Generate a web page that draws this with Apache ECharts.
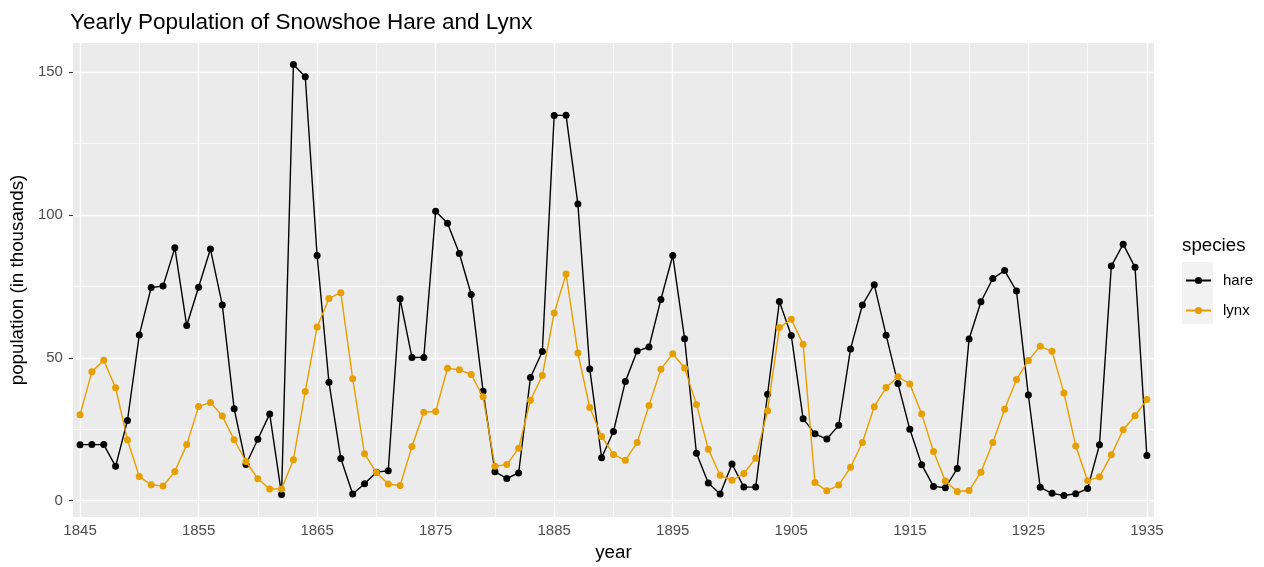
<!DOCTYPE html>
<html>
<head>
<meta charset="utf-8">
<script src="https://cdn.jsdelivr.net/npm/echarts@6/dist/echarts.min.js"></script>
<style>
  html, body { margin: 0; padding: 0; background: #fff; }
  #chart { width: 1264px; height: 567px; }
</style>
</head>
<body>
<div id="chart"></div>
<script>
  // 年份 1845-1935
  const years = [];
  for (let y = 1845; y <= 1935; y++) years.push(y);

  const hare = [19.58, 19.6, 19.61, 11.99, 28.04, 58.0, 74.6, 75.09, 88.48, 61.28,
    74.67, 88.06, 68.51, 32.19, 12.64, 21.49, 30.35, 2.18, 152.65, 148.36,
    85.81, 41.41, 14.75, 2.28, 5.91, 9.95, 10.44, 70.64, 50.12, 50.13,
    101.25, 97.12, 86.51, 72.17, 38.32, 10.11, 7.74, 9.67, 43.12, 52.21,
    134.85, 134.86, 103.79, 46.1, 15.03, 24.2, 41.65, 52.34, 53.78, 70.4,
    85.81, 56.69, 16.59, 6.16, 2.3, 12.82, 4.72, 4.73, 37.22, 69.72,
    57.78, 28.68, 23.37, 21.54, 26.34, 53.1, 68.48, 75.58, 57.92, 40.97,
    24.95, 12.59, 4.97, 4.5, 11.21, 56.6, 69.63, 77.74, 80.53, 73.38,
    36.93, 4.64, 2.54, 1.8, 2.39, 4.23, 19.52, 82.11, 89.76, 81.66, 15.76];

  const lynx = [30.09, 45.15, 49.15, 39.52, 21.23, 8.42, 5.56, 5.08, 10.17, 19.6,
    32.91, 34.38, 29.59, 21.3, 13.69, 7.65, 4.08, 4.09, 14.33, 38.22,
    60.78, 70.77, 72.77, 42.68, 16.39, 9.83, 5.8, 5.26, 18.91, 30.95,
    31.18, 46.34, 45.77, 44.15, 36.33, 12.03, 12.6, 18.34, 35.14, 43.77,
    65.69, 79.35, 51.65, 32.59, 22.45, 16.16, 14.12, 20.38, 33.33, 46.0,
    51.41, 46.43, 33.68, 18.01, 8.86, 7.13, 9.47, 14.86, 31.47, 60.57,
    63.51, 54.7, 6.3, 3.41, 5.44, 11.65, 20.35, 32.88, 39.55, 43.36,
    40.83, 30.36, 17.18, 6.82, 3.19, 3.52, 9.94, 20.3, 31.99, 42.36,
    49.08, 53.99, 52.25, 37.7, 19.14, 6.98, 8.31, 16.01, 24.82, 29.7, 35.4];

  const xMajor = [1845, 1855, 1865, 1875, 1885, 1895, 1905, 1915, 1925, 1935];
  const xMinor = [1850, 1860, 1870, 1880, 1890, 1900, 1910, 1920, 1930];
  const yMajor = [0, 50, 100, 150];
  const yMinor = [25, 75, 125];

  const font = 'Liberation Sans, Arial, sans-serif';
  const xMin = 1844.4, xMax = 1935.6;
  const yMin = -5.74, yMax = 160.19;

  const myChart = echarts.init(document.getElementById('chart'));

  // 网格线（主/次）用 markLine 画
  const gridLines = [];
  xMinor.forEach(v => gridLines.push({ xAxis: v, lineStyle: { width: 0.7 } }));
  yMinor.forEach(v => gridLines.push({ yAxis: v, lineStyle: { width: 0.7 } }));
  xMajor.forEach(v => gridLines.push({ xAxis: v, lineStyle: { width: 1.4 } }));
  yMajor.forEach(v => gridLines.push({ yAxis: v, lineStyle: { width: 1.4 } }));

  myChart.setOption({
    animation: false,
    backgroundColor: '#fff',
    title: {
      text: 'Yearly Population of Snowshoe Hare and Lynx',
      left: 65, top: 6,
      textStyle: { fontFamily: font, fontSize: 22.5, fontWeight: 'normal', color: '#000' }
    },
    grid: {
      left: 72, right: 110, top: 43, bottom: 49,
      show: true, backgroundColor: '#EBEBEB', borderWidth: 0
    },
    legend: {
      orient: 'vertical',
      left: 1185, top: 273, padding: 0,
      itemWidth: 25, itemHeight: 9, itemGap: 15,
      textStyle: { fontFamily: font, fontSize: 15, color: '#000', padding: [0, 0, 0, 7] },
      data: ['hare', 'lynx']
    },
    graphic: [
      {
        type: 'rect', z: -1,
        shape: { x: 1182, y: 262, width: 31, height: 62 },
        style: { fill: '#F2F2F2' }
      },
      {
        type: 'text', left: 1182, top: 236,
        style: { text: 'species', font: '18.75px ' + font, fill: '#000' }
      }
    ],
    xAxis: {
      type: 'value', min: xMin, max: xMax,
      name: 'year', nameLocation: 'middle', nameGap: 26,
      nameTextStyle: { fontFamily: font, fontSize: 18.75, color: '#000' },
      axisLine: { show: false },
      axisTick: { show: true, length: 4, customValues: xMajor, lineStyle: { color: '#333', width: 1.1 } },
      axisLabel: { customValues: xMajor, margin: 6, fontFamily: font, fontSize: 15, color: '#4D4D4D',
        formatter: v => String(v) },
      splitLine: { show: false }
    },
    yAxis: {
      type: 'value', min: yMin, max: yMax,
      name: 'population (in thousands)', nameLocation: 'middle', nameGap: 40,
      nameTextStyle: { fontFamily: font, fontSize: 18.75, color: '#000' },
      axisLine: { show: false },
      axisTick: { show: true, length: 4, customValues: yMajor, lineStyle: { color: '#333', width: 1.1 } },
      axisLabel: { customValues: yMajor, margin: 10, fontFamily: font, fontSize: 15, color: '#4D4D4D',
        formatter: v => String(v) },
      splitLine: { show: false }
    },
    series: [
      {
        name: 'grid', type: 'line', data: [], z: 1, silent: true,
        markLine: {
          z: 1, silent: true, symbol: 'none', label: { show: false },
          lineStyle: { color: '#fff', type: 'solid' },
          emphasis: { disabled: true },
          data: gridLines
        }
      },
      {
        name: 'hare', type: 'line', z: 2,
        data: years.map((y, i) => [y, hare[i]]),
        symbol: 'circle', symbolSize: 7, showAllSymbol: true,
        itemStyle: { color: '#000' },
        lineStyle: { color: '#000', width: 1.4 }
      },
      {
        name: 'lynx', type: 'line', z: 3,
        data: years.map((y, i) => [y, lynx[i]]),
        symbol: 'circle', symbolSize: 7, showAllSymbol: true,
        itemStyle: { color: '#E69F00' },
        lineStyle: { color: '#E69F00', width: 1.4 }
      }
    ]
  });

  window.addEventListener('resize', () => {
    myChart && myChart.resize();
  });
</script>
</body>
</html>
